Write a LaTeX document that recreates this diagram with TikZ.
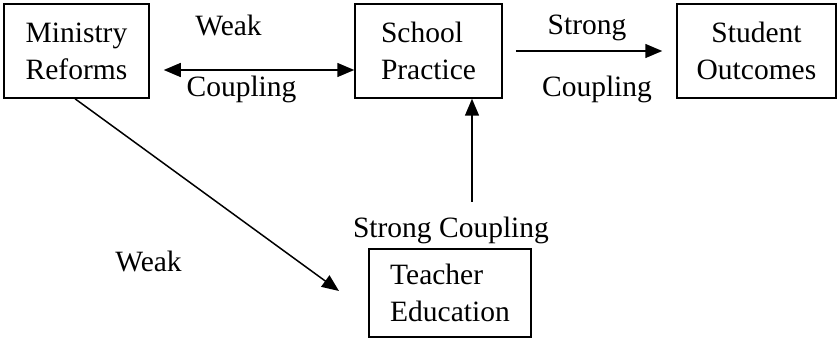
\documentclass[tikz,border=0pt]{standalone}
\usepackage{fontspec}
\setmainfont{Liberation Serif}
\usetikzlibrary{arrows.meta}
\begin{document}
\begin{tikzpicture}[x=1pt,y=-1pt,
  box/.style={draw,line width=1.5pt,inner sep=0pt,font=\fontsize{29.5}{37}\selectfont},
  lbl/.style={anchor=base,inner sep=0pt,font=\fontsize{29.5}{37}\selectfont},
  arr/.style={line width=1.5pt,-{Triangle[length=17pt,width=14pt]}},
  darr/.style={line width=1.5pt,{Triangle[length=17pt,width=14pt]}-{Triangle[length=17pt,width=14pt]}}]
\useasboundingbox (0,0) rectangle (839,339);
\node[box,minimum width=145pt,minimum height=94pt,align=left] (min) at (76.5,51) {Ministry\\Reforms};
\node[box,minimum width=147pt,minimum height=94pt,align=left] (sch) at (428.5,51) {School\\Practice};
\node[box,minimum width=159pt,minimum height=94pt,align=center] (stu) at (756.5,51) {Student\\Outcomes};
\node[box,minimum width=162pt,minimum height=88pt,align=left] (tea) at (450,293) {Teacher\\Education};
\node[lbl] (w1) at (228.5,36) {Weak};
\node[lbl] (c1) at (241.5,97) {Coupling};
\node[lbl] (s2) at (587,35) {Strong};
\node[lbl] (c2) at (597,97) {Coupling};
\node[lbl] (sc) at (451,238) {Strong Coupling};
\node[lbl] (w3) at (148.5,272) {Weak};
\coordinate (vstart) at (472,202);
\coordinate (dend) at (339,291);
\draw[darr] ([xshift=14pt,yshift=-19pt]min.east) -- ([yshift=-19pt]sch.west);
\draw[arr] ([xshift=13pt]sch.east) -- ([xshift=-14pt]stu.west);
\draw[arr] (vstart) -- (vstart |- sch.south);
\draw[arr] (min.south -| 75,0) -- (dend);
\end{tikzpicture}
\end{document}
